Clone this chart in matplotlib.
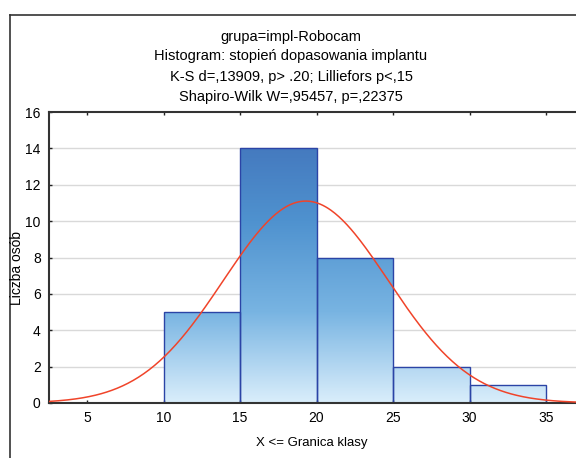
import numpy as np
import matplotlib
matplotlib.use("Agg")
import matplotlib.pyplot as plt
from matplotlib.lines import Line2D
from matplotlib.colors import LinearSegmentedColormap

plt.rcParams['font.family'] = ['Liberation Sans', 'DejaVu Sans']

bin_edges = [10, 15, 20, 25, 30, 35]
counts = [5, 14, 8, 2, 1]
fit_mean = 19.3
fit_sd = 5.39
n_total = 30
x_ticks = [5, 10, 15, 20, 25, 30, 35]
y_ticks = [0, 2, 4, 6, 8, 10, 12, 14, 16]
title_lines = ["grupa=impl-Robocam",
               "Histogram: stopień dopasowania implantu",
               "K-S d=,13909, p> .20; Lilliefors p<,15",
               "Shapiro-Wilk W=,95457, p=,22375"]
xlabel = "X <= Granica klasy"
ylabel = "Liczba osób"

W, H = 576, 458
fig = plt.figure(figsize=(W / 100, H / 100), dpi=100)

# outer frame (left and top visible)
fig.add_artist(Line2D([10 / W, 10 / W], [0, 1 - 15 / H], color='#333333', lw=1.2, transform=fig.transFigure))
fig.add_artist(Line2D([10 / W, 1.0], [1 - 15 / H, 1 - 15 / H], color='#333333', lw=1.2, transform=fig.transFigure))

left, right, bottom, top = 49, 582, 403, 112
ax = fig.add_axes([left / W, 1 - bottom / H, (right - left) / W, (bottom - top) / H])
ppu = 76.5 / 5
xmin = 5 - (87 - left) / ppu
xmax = xmin + (right - left) / ppu
ax.set_xlim(xmin, xmax)
ax.set_ylim(0, 16)

for y in y_ticks[1:-1]:
    ax.axhline(y, color='#d9d9d9', lw=1.0, zorder=0)

cmap = LinearSegmentedColormap.from_list('g', ['#daeefb', '#78b4e2', '#4f92cf', '#4274bb'])
grad = np.linspace(0, 1, 256).reshape(-1, 1)
for i, c in enumerate(counts):
    x0, x1 = bin_edges[i], bin_edges[i + 1]
    im = ax.imshow(grad, cmap=cmap, aspect='auto', origin='lower',
                   extent=[x0, x1, 0, 15], vmin=0, vmax=1, zorder=1)
    rect = plt.Rectangle((x0, 0), x1 - x0, c, facecolor='none', edgecolor='#2b44a6', lw=1.0, zorder=2)
    ax.add_patch(rect)
    im.set_clip_path(rect)

xs = np.linspace(xmin, xmax, 400)
bw = bin_edges[1] - bin_edges[0]
ys = n_total * bw / (fit_sd * np.sqrt(2 * np.pi)) * np.exp(-0.5 * ((xs - fit_mean) / fit_sd) ** 2)
ax.plot(xs, ys, color='#f0442a', lw=1.1, zorder=3)

ax.set_xticks(x_ticks)
ax.set_yticks(y_ticks)
ax.tick_params(direction='in', length=2.5, width=1, labelsize=10, colors='#222222', top=True, pad=6)
ax.tick_params(axis='x', labelcolor='black')
ax.tick_params(axis='y', labelcolor='black')
for s in ['left', 'bottom', 'top']:
    ax.spines[s].set_linewidth(1.5)
    ax.spines[s].set_color('#333333')
ax.spines['right'].set_visible(False)

fig.text(312 / W, 1 - 443 / H, xlabel, ha='center', va='center', fontsize=9.5)
fig.text(17 / W, 1 - 268 / H, ylabel, ha='center', va='center', fontsize=10, rotation=90)

ys_title = [37, 56, 77, 97]
for t, yy in zip(title_lines, ys_title):
    fig.text(291 / W, 1 - yy / H, t, ha='center', va='center', fontsize=10.5)

fig.savefig('out.png', dpi=100)
